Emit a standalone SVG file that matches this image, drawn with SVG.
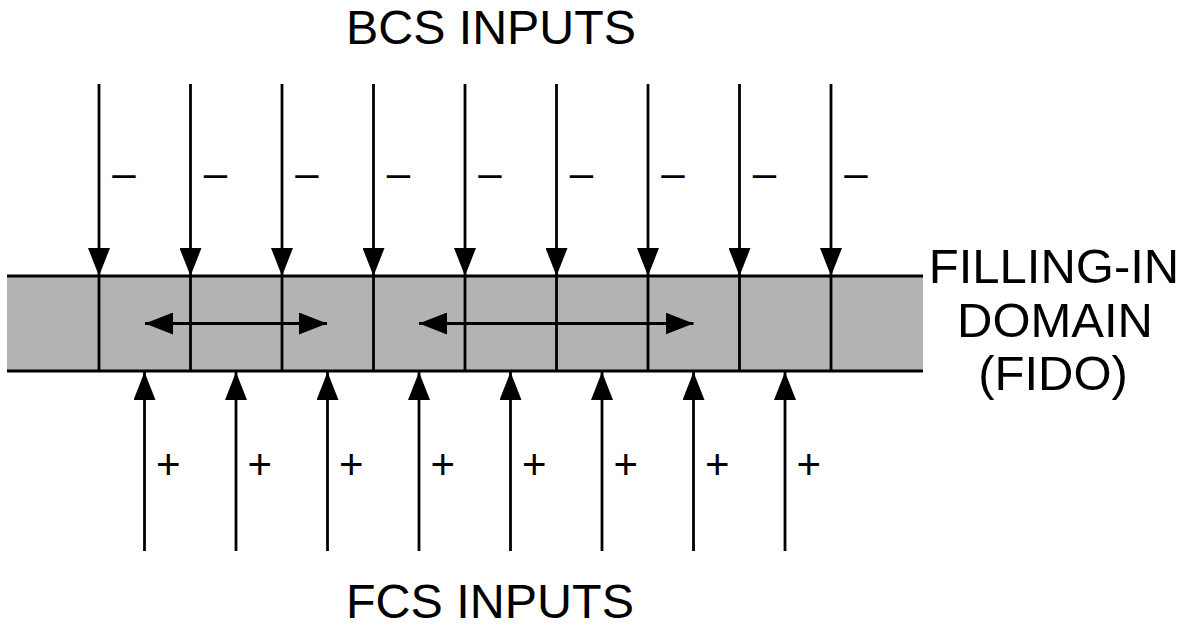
<svg xmlns="http://www.w3.org/2000/svg" width="1190" height="625" viewBox="0 0 1190 625">
  <style>
    .title { font-family: "Liberation Sans", Arial, sans-serif; font-size: 47.5px; fill: #000; }
    .side { font-family: "Liberation Sans", Arial, sans-serif; font-size: 49px; fill: #000; text-anchor: middle; }
    .sign { font-family: "Liberation Sans", Arial, sans-serif; font-size: 42px; fill: #000; text-anchor: middle; }
    .wire { stroke: #000; stroke-width: 2.8; fill: none; }
    .edge { stroke: #000; stroke-width: 3; fill: none; }
  </style>
  <defs>
    <marker id="head" viewBox="0 0 28 22" refX="28" refY="11" markerWidth="28" markerHeight="22" markerUnits="userSpaceOnUse" orient="auto-start-reverse">
      <path d="M0,0 L28,11 L0,22 Z" fill="#000"/>
    </marker>
  </defs>
  <rect width="1190" height="625" fill="#fff"/>

  <!-- filling-in domain band -->
  <g id="fido">
    <rect x="7" y="276" width="916" height="95" fill="#b3b3b3"/>
    <line class="edge" x1="7" y1="276" x2="923" y2="276"/>
    <line class="edge" x1="7" y1="371" x2="923" y2="371"/>
    <g class="wire">
      <line x1="99" y1="276" x2="99" y2="371"/>
      <line x1="190.5" y1="276" x2="190.5" y2="371"/>
      <line x1="282" y1="276" x2="282" y2="371"/>
      <line x1="373.5" y1="276" x2="373.5" y2="371"/>
      <line x1="465" y1="276" x2="465" y2="371"/>
      <line x1="556.5" y1="276" x2="556.5" y2="371"/>
      <line x1="648" y1="276" x2="648" y2="371"/>
      <line x1="739.5" y1="276" x2="739.5" y2="371"/>
      <line x1="831" y1="276" x2="831" y2="371"/>
    </g>
  </g>

  <g id="labels">
    <text class="title" x="346" y="43.5" textLength="290" lengthAdjust="spacingAndGlyphs">BCS INPUTS</text>
    <text class="title" x="346" y="617.5" textLength="288" lengthAdjust="spacingAndGlyphs">FCS INPUTS</text>
    <text class="side" x="1054" y="283">FILLING-IN</text>
    <text class="side" x="1055" y="336.7">DOMAIN</text>
    <text class="side" x="1053" y="390">(FIDO)</text>
  </g>

  <!-- connectors: BCS (top, negative), FCS (bottom, positive), lateral spreading -->
  <g id="connectors" class="wire">
    <line x1="99" y1="84" x2="99" y2="276" marker-end="url(#head)"/>
    <line x1="190.5" y1="84" x2="190.5" y2="276" marker-end="url(#head)"/>
    <line x1="282" y1="84" x2="282" y2="276" marker-end="url(#head)"/>
    <line x1="373.5" y1="84" x2="373.5" y2="276" marker-end="url(#head)"/>
    <line x1="465" y1="84" x2="465" y2="276" marker-end="url(#head)"/>
    <line x1="556.5" y1="84" x2="556.5" y2="276" marker-end="url(#head)"/>
    <line x1="648" y1="84" x2="648" y2="276" marker-end="url(#head)"/>
    <line x1="739.5" y1="84" x2="739.5" y2="276" marker-end="url(#head)"/>
    <line x1="831" y1="84" x2="831" y2="276" marker-end="url(#head)"/>

    <line x1="144.5" y1="551" x2="144.5" y2="372" marker-end="url(#head)"/>
    <line x1="236" y1="551" x2="236" y2="372" marker-end="url(#head)"/>
    <line x1="327.5" y1="551" x2="327.5" y2="372" marker-end="url(#head)"/>
    <line x1="419" y1="551" x2="419" y2="372" marker-end="url(#head)"/>
    <line x1="510.5" y1="551" x2="510.5" y2="372" marker-end="url(#head)"/>
    <line x1="602" y1="551" x2="602" y2="372" marker-end="url(#head)"/>
    <line x1="693.5" y1="551" x2="693.5" y2="372" marker-end="url(#head)"/>
    <line x1="785" y1="551" x2="785" y2="372" marker-end="url(#head)"/>

    <line x1="145" y1="323.5" x2="327" y2="323.5" marker-start="url(#head)" marker-end="url(#head)"/>
    <line x1="419" y1="323.5" x2="693.5" y2="323.5" marker-start="url(#head)" marker-end="url(#head)"/>
  </g>

  <g id="signs">
    <text class="sign" x="124" y="187">–</text>
    <text class="sign" x="215.5" y="187">–</text>
    <text class="sign" x="307" y="187">–</text>
    <text class="sign" x="398.5" y="187">–</text>
    <text class="sign" x="490" y="187">–</text>
    <text class="sign" x="581.5" y="187">–</text>
    <text class="sign" x="673" y="187">–</text>
    <text class="sign" x="764.5" y="187">–</text>
    <text class="sign" x="856" y="187">–</text>

    <text class="sign" x="168.3" y="479">+</text>
    <text class="sign" x="259.8" y="479">+</text>
    <text class="sign" x="351.3" y="479">+</text>
    <text class="sign" x="442.8" y="479">+</text>
    <text class="sign" x="534.3" y="479">+</text>
    <text class="sign" x="625.8" y="479">+</text>
    <text class="sign" x="717.3" y="479">+</text>
    <text class="sign" x="808.8" y="479">+</text>
  </g>
</svg>
